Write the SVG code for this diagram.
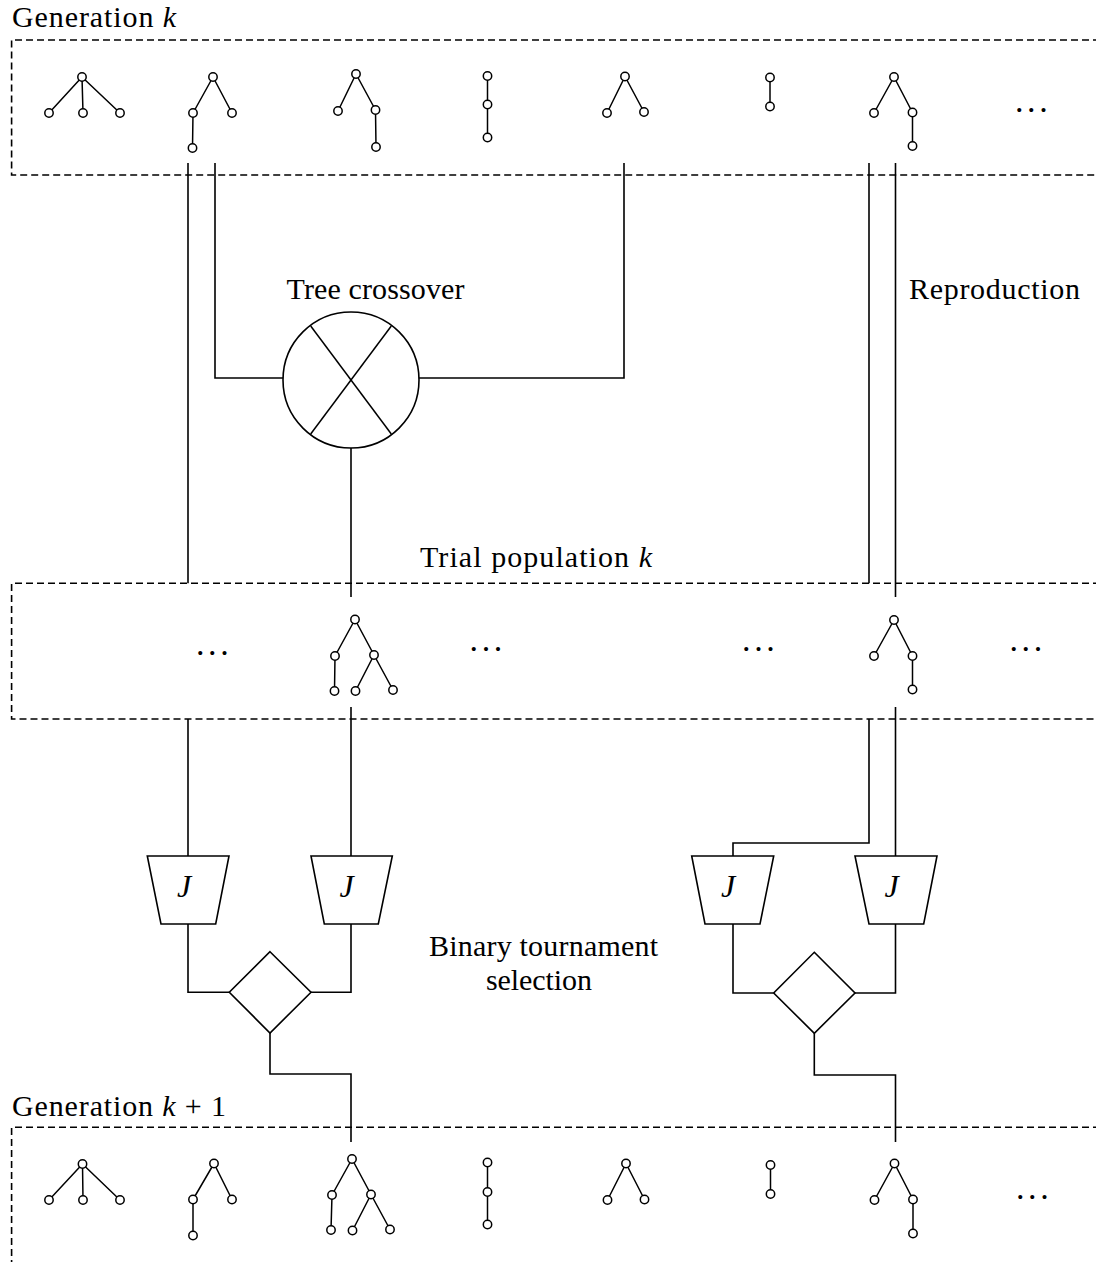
<svg xmlns="http://www.w3.org/2000/svg" width="1096" height="1262" viewBox="0 0 1096 1262">
<style>
  .bg { fill: #ffffff; }
  .dash { fill: none; stroke: #000; stroke-width: 1.6; stroke-dasharray: 7 4; }
  .wire { fill: none; stroke: #000; stroke-width: 1.6; }
  .shape { fill: #ffffff; stroke: #000; stroke-width: 1.6; }
  .edge { stroke: #000; stroke-width: 1.5; fill: none; }
  .nd { fill: #ffffff; stroke: #000; stroke-width: 1.5; }
  .lbl { font-family: "Liberation Serif", "Times New Roman", serif; font-size: 30px; fill: #000; }
  .it { font-style: italic; }
  .jl { font-family: "Liberation Serif", "Times New Roman", serif; font-size: 32px; font-style: italic; fill: #000; }
  .dots { font-family: "Liberation Serif", "Times New Roman", serif; font-size: 34px; letter-spacing: 3.6px; fill: #000; }
</style>
<rect class="bg" x="0" y="0" width="1096" height="1262"/>

<!-- Population boxes -->
<g id="generation-k">
  <path class="dash" d="M1100,40 H11.6 V175 H1100"/>
  <text class="lbl" x="12" y="26.5" textLength="164" lengthAdjust="spacing">Generation <tspan class="it">k</tspan></text>
</g>
<g id="trial-population">
  <path class="dash" d="M1100,583.3 H11.6 V719 H1100"/>
  <text class="lbl" x="420" y="566.5" textLength="232" lengthAdjust="spacing">Trial population <tspan class="it">k</tspan></text>
</g>
<g id="generation-k1">
  <path class="dash" d="M1100,1127.3 H11.6 V1270"/>
  <text class="lbl" x="12" y="1115.5" textLength="214" lengthAdjust="spacing">Generation <tspan class="it">k</tspan> + 1</text>
</g>

<!-- Connectors -->
<g id="connectors">
  <path class="wire" d="M188,163 V583.3"/>
  <path class="wire" d="M215,163 V378 H283"/>
  <path class="wire" d="M624,163 V378 H419"/>
  <path class="wire" d="M351,448 V597"/>
  <path class="wire" d="M869,163 V583.3"/>
  <path class="wire" d="M895.5,163 V597"/>
  <path class="wire" d="M188,719 V856"/>
  <path class="wire" d="M351,707 V856"/>
  <path class="wire" d="M869,719 V843 H733 V856"/>
  <path class="wire" d="M895.5,707 V856"/>
  <path class="wire" d="M188,924 V992.3 H229.3"/>
  <path class="wire" d="M351,924 V992.3 H311"/>
  <path class="wire" d="M270,1033 V1074 H351 V1142"/>
  <path class="wire" d="M733,924 V993 H773.7"/>
  <path class="wire" d="M895.5,924 V993 H855"/>
  <path class="wire" d="M814.3,1033.3 V1075 H895.5 V1142"/>
</g>

<!-- Operators -->
<g id="tree-crossover">
  <circle class="shape" cx="351" cy="380" r="68"/>
  <line class="edge" x1="310.7" y1="326" x2="391.3" y2="434"/>
  <line class="edge" x1="391.3" y1="326" x2="310.7" y2="434"/>
  <text class="lbl" x="286.5" y="299" textLength="178" lengthAdjust="spacing">Tree crossover</text>
</g>
<g id="reproduction">
  <text class="lbl" x="909" y="298.5" textLength="171" lengthAdjust="spacing">Reproduction</text>
</g>
<g id="fitness-1">
  <polygon class="shape" points="147.3,856 229,856 215.7,924 161,924"/>
  <text class="jl" x="184" y="897" text-anchor="middle">J</text>
</g>
<g id="fitness-2">
  <polygon class="shape" points="311,856 392.3,856 378.3,924 324.3,924"/>
  <text class="jl" x="346.5" y="897" text-anchor="middle">J</text>
</g>
<g id="fitness-3">
  <polygon class="shape" points="691.7,856 773.7,856 760,924 705,924"/>
  <text class="jl" x="728" y="897" text-anchor="middle">J</text>
</g>
<g id="fitness-4">
  <polygon class="shape" points="855,856 937,856 923.7,924 869,924"/>
  <text class="jl" x="891.5" y="897" text-anchor="middle">J</text>
</g>
<g id="tournament-1">
  <polygon class="shape" points="270,951.7 311,992.3 270,1033 229.3,992.3"/>
</g>
<g id="tournament-2">
  <polygon class="shape" points="814.3,952.3 855,993 814.3,1033.3 773.7,993"/>
</g>
<g id="tournament-label">
  <text class="lbl" x="429" y="956" textLength="229" lengthAdjust="spacing">Binary tournament</text>
  <text class="lbl" x="486" y="990" textLength="106" lengthAdjust="spacing">selection</text>
</g>

<!-- Generation k trees -->
<g id="gk-tree1">
  <path class="edge" d="M82,77 L49,113 M82,77 L83,113 M82,77 L120,113"/>
  <circle class="nd" cx="82" cy="77" r="4.2"/><circle class="nd" cx="49" cy="113" r="4.2"/><circle class="nd" cx="83" cy="113" r="4.2"/><circle class="nd" cx="120" cy="113" r="4.2"/>
</g>
<g id="gk-tree2">
  <path class="edge" d="M213,77 L193,113 M213,77 L232,113 M193,113 L192.5,148"/>
  <circle class="nd" cx="213" cy="77" r="4.2"/><circle class="nd" cx="193" cy="113" r="4.2"/><circle class="nd" cx="232" cy="113" r="4.2"/><circle class="nd" cx="192.5" cy="148" r="4.2"/>
</g>
<g id="gk-tree3">
  <path class="edge" d="M356,74 L338,111 M356,74 L375.5,110 M375.5,110 L376,147"/>
  <circle class="nd" cx="356" cy="74" r="4.2"/><circle class="nd" cx="338" cy="111" r="4.2"/><circle class="nd" cx="375.5" cy="110" r="4.2"/><circle class="nd" cx="376" cy="147" r="4.2"/>
</g>
<g id="gk-tree4">
  <path class="edge" d="M487.5,76 V137.5"/>
  <circle class="nd" cx="487.5" cy="76" r="4.2"/><circle class="nd" cx="487.5" cy="104.5" r="4.2"/><circle class="nd" cx="487.5" cy="137.5" r="4.2"/>
</g>
<g id="gk-tree5">
  <path class="edge" d="M625,76.5 L607,113 M625,76.5 L644,112"/>
  <circle class="nd" cx="625" cy="76.5" r="4.2"/><circle class="nd" cx="607" cy="113" r="4.2"/><circle class="nd" cx="644" cy="112" r="4.2"/>
</g>
<g id="gk-tree6">
  <path class="edge" d="M770,77.5 V106.5"/>
  <circle class="nd" cx="770" cy="77.5" r="4.2"/><circle class="nd" cx="770" cy="106.5" r="4.2"/>
</g>
<g id="gk-tree7">
  <path class="edge" d="M894,77 L874,113 M894,77 L912.5,112.5 M912.5,112.5 V146"/>
  <circle class="nd" cx="894" cy="77" r="4.2"/><circle class="nd" cx="874" cy="113" r="4.2"/><circle class="nd" cx="912.5" cy="112.5" r="4.2"/><circle class="nd" cx="912.5" cy="146" r="4.2"/>
</g>
<text class="dots" x="1015" y="112">...</text>

<!-- Trial population trees -->
<g id="trial-tree-cross">
  <path class="edge" d="M355,619.5 L335,656 M355,619.5 L374,655 M335,656 L334.5,691 M374,655 L355.5,691 M374,655 L393,690"/>
  <circle class="nd" cx="355" cy="619.5" r="4.2"/><circle class="nd" cx="335" cy="656" r="4.2"/><circle class="nd" cx="374" cy="655" r="4.2"/><circle class="nd" cx="334.5" cy="691" r="4.2"/><circle class="nd" cx="355.5" cy="691" r="4.2"/><circle class="nd" cx="393" cy="690" r="4.2"/>
</g>
<g id="trial-tree-repro">
  <path class="edge" d="M894,620 L874,656 M894,620 L912.5,656 M912.5,656 V689.5"/>
  <circle class="nd" cx="894" cy="620" r="4.2"/><circle class="nd" cx="874" cy="656" r="4.2"/><circle class="nd" cx="912.5" cy="656" r="4.2"/><circle class="nd" cx="912.5" cy="689.5" r="4.2"/>
</g>
<text class="dots" x="196" y="654.5">...</text>
<text class="dots" x="469.6" y="651">...</text>
<text class="dots" x="742.1" y="651">...</text>
<text class="dots" x="1009.5" y="651">...</text>

<!-- Generation k+1 trees -->
<g id="gk1-tree1">
  <path class="edge" d="M82.5,1164 L49,1200 M82.5,1164 L83,1200 M82.5,1164 L120,1200"/>
  <circle class="nd" cx="82.5" cy="1164" r="4.2"/><circle class="nd" cx="49" cy="1200" r="4.2"/><circle class="nd" cx="83" cy="1200" r="4.2"/><circle class="nd" cx="120" cy="1200" r="4.2"/>
</g>
<g id="gk1-tree2">
  <path class="edge" d="M214,1163.5 L193,1199.5 M214,1163.5 L232,1199.5 M193,1199.5 V1235.5"/>
  <circle class="nd" cx="214" cy="1163.5" r="4.2"/><circle class="nd" cx="193" cy="1199.5" r="4.2"/><circle class="nd" cx="232" cy="1199.5" r="4.2"/><circle class="nd" cx="193" cy="1235.5" r="4.2"/>
</g>
<g id="gk1-tree3">
  <path class="edge" d="M352,1159 L332,1195 M352,1159 L371,1194.5 M332,1195 L331,1230 M371,1194.5 L352.5,1230.5 M371,1194.5 L390,1229.5"/>
  <circle class="nd" cx="352" cy="1159" r="4.2"/><circle class="nd" cx="332" cy="1195" r="4.2"/><circle class="nd" cx="371" cy="1194.5" r="4.2"/><circle class="nd" cx="331" cy="1230" r="4.2"/><circle class="nd" cx="352.5" cy="1230.5" r="4.2"/><circle class="nd" cx="390" cy="1229.5" r="4.2"/>
</g>
<g id="gk1-tree4">
  <path class="edge" d="M487.5,1162.5 V1224.5"/>
  <circle class="nd" cx="487.5" cy="1162.5" r="4.2"/><circle class="nd" cx="487.5" cy="1192" r="4.2"/><circle class="nd" cx="487.5" cy="1224.5" r="4.2"/>
</g>
<g id="gk1-tree5">
  <path class="edge" d="M626,1163.5 L607.5,1200 M626,1163.5 L644.5,1199.5"/>
  <circle class="nd" cx="626" cy="1163.5" r="4.2"/><circle class="nd" cx="607.5" cy="1200" r="4.2"/><circle class="nd" cx="644.5" cy="1199.5" r="4.2"/>
</g>
<g id="gk1-tree6">
  <path class="edge" d="M770.5,1165 V1194"/>
  <circle class="nd" cx="770.5" cy="1165" r="4.2"/><circle class="nd" cx="770.5" cy="1194" r="4.2"/>
</g>
<g id="gk1-tree7">
  <path class="edge" d="M894.5,1163.5 L874.5,1200 M894.5,1163.5 L913,1199.5 M913,1199.5 V1233.5"/>
  <circle class="nd" cx="894.5" cy="1163.5" r="4.2"/><circle class="nd" cx="874.5" cy="1200" r="4.2"/><circle class="nd" cx="913" cy="1199.5" r="4.2"/><circle class="nd" cx="913" cy="1233.5" r="4.2"/>
</g>
<text class="dots" x="1016" y="1199">...</text>
</svg>
